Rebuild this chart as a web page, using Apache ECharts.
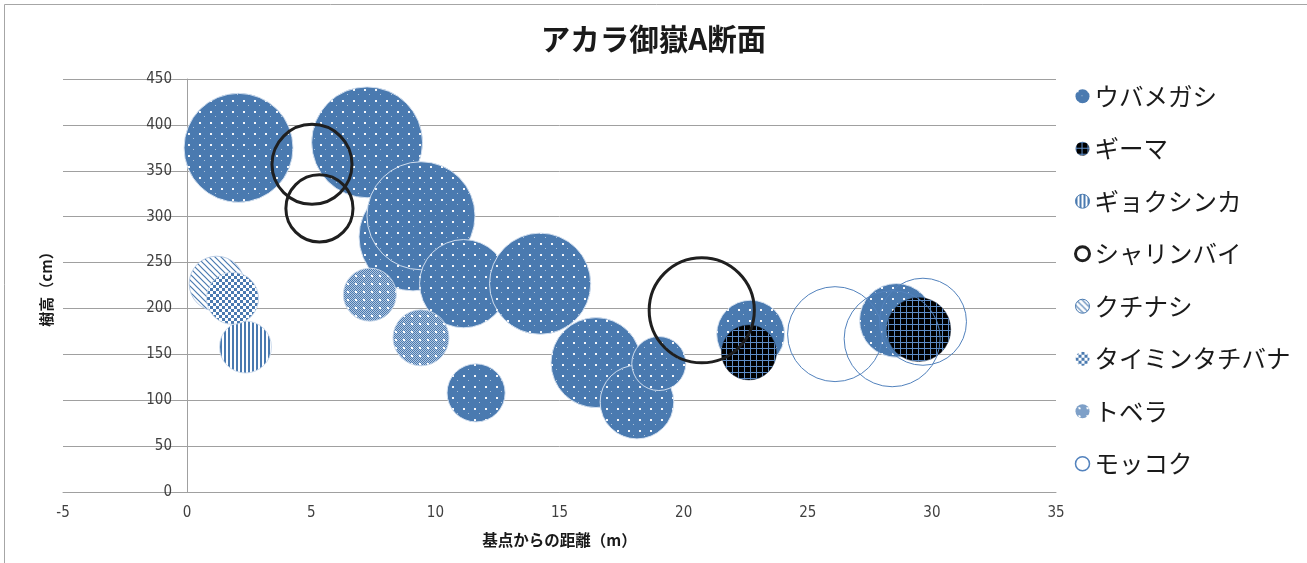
<!DOCTYPE html>
<html>
<head>
<meta charset="utf-8">
<script src="https://cdn.jsdelivr.net/npm/echarts@6/dist/echarts.min.js"></script>
<style>
  html, body { margin: 0; padding: 0; background: #ffffff; }
  #chart { width: 1307px; height: 563px; }
</style>
</head>
<body>
<div id="chart"></div>
<script>
// アカラ御嶽A断面: tree positions along the transect (distance m, height cm, crown size)
const titleText = 'アカラ御嶽A断面';
const xAxisName = '基点からの距離（m）';
const yAxisName = '樹高（cm）';
const xMin = -5, xMax = 35, xStep = 5;
const yMin = 0, yMax = 450, yStep = 50;

const speciesNames = ['ウバメガシ', 'ギーマ', 'ギョクシンカ', 'シャリンバイ', 'クチナシ', 'タイミンタチバナ', 'トベラ', 'モッコク'];

// [distance, height, crown size]
const ubamegashi = [
  [2.07, 375, 11.6], [7.25, 381, 12.0], [9.1, 278, 11.4], [9.42, 301, 11.4],
  [11.14, 227, 7.6], [11.64, 108, 3.3], [14.22, 227, 10.0], [16.47, 141, 7.9],
  [18.12, 98, 5.3], [19.0, 140, 2.85], [22.7, 172, 4.5], [28.57, 187, 5.3]
];
const gima = [[22.63, 152, 2.95], [29.47, 177, 4.0]];
const gyokushinka = [[2.35, 158, 2.64]];
const sharinbai = [[5.03, 357, 6.25], [5.33, 309, 4.4], [20.73, 198, 10.8]];
const kuchinashi = [[1.19, 227, 2.95]];
const taiminTachibana = [[1.83, 211, 2.64]];
const tobera = [[7.36, 215, 2.74], [9.42, 168, 3.06]];
const mokkoku = [[26.1, 172, 8.8], [28.4, 167, 9.0], [29.64, 185.5, 7.4]];

const seriesData = [ubamegashi, gima, gyokushinka, sharinbai, kuchinashi, taiminTachibana, tobera, mokkoku];

// bubble area is proportional to crown size
const BUBBLE_SCALE = 32;
const bubbleDiameter = s => BUBBLE_SCALE * Math.sqrt(s);

const BLUE = '#4a7ab0';

// small repeating fill patterns
function tile(w, h, draw) {
  const c = document.createElement('canvas');
  c.width = w; c.height = h;
  const g = c.getContext('2d');
  draw(g, w, h);
  return { image: c, repeat: 'repeat' };
}
const dotted = tile(11, 11, (g, w, h) => {
  g.fillStyle = BLUE; g.fillRect(0, 0, w, h);
  g.fillStyle = 'rgba(255,255,255,0.95)'; g.fillRect(1, 1, 2, 2);
  g.fillStyle = 'rgba(255,255,255,0.55)'; g.fillRect(6, 6, 1, 1);
});
const blackGrid = tile(6, 6, (g, w, h) => {
  g.fillStyle = '#000000'; g.fillRect(0, 0, w, h);
  g.fillStyle = '#5d8cc6'; g.fillRect(0, 0, w, 1); g.fillRect(0, 0, 1, h);
});
const vStripes = tile(4, 4, (g, w, h) => {
  g.fillStyle = '#ffffff'; g.fillRect(0, 0, w, h);
  g.fillStyle = BLUE; g.fillRect(0, 0, 2, h);
});
const diagonal = tile(6, 6, (g, w, h) => {
  g.fillStyle = '#ffffff'; g.fillRect(0, 0, w, h);
  g.strokeStyle = BLUE; g.lineWidth = 1.2;
  g.beginPath();
  g.moveTo(-1, -1); g.lineTo(w + 1, h + 1);
  g.moveTo(-1, h - 1); g.lineTo(1, h + 1);
  g.moveTo(w - 1, -1); g.lineTo(w + 1, 1);
  g.stroke();
});
const checker = tile(6, 6, (g, w, h) => {
  g.fillStyle = '#d6e1ee'; g.fillRect(0, 0, w, h);
  g.fillStyle = BLUE; g.fillRect(0, 0, 3, 3); g.fillRect(3, 3, 3, 3);
  g.fillStyle = '#ffffff'; g.fillRect(3, 0, 3, 3); g.fillRect(0, 3, 3, 3);
});
const fineMesh = tile(8, 8, (g, w, h) => {
  g.fillStyle = '#b3c7e0'; g.fillRect(0, 0, w, h);
  g.fillStyle = BLUE;
  for (let y = 0; y < h; y++) for (let x = 0; x < w; x++) if ((x + y) % 2 === 0) g.fillRect(x, y, 1, 1);
  g.fillStyle = '#ffffff'; g.fillRect(3, 3, 2, 2);
});

const styles = [
  { color: dotted, borderColor: 'rgba(214,226,240,0.95)', borderWidth: 1 },
  { color: blackGrid, borderColor: '#1a2a40', borderWidth: 0.5 },
  { color: vStripes, borderColor: 'rgba(200,215,234,0.9)', borderWidth: 1 },
  { color: 'rgba(0,0,0,0)', borderColor: '#1f1f1f', borderWidth: 3 },
  { color: diagonal, borderColor: 'rgba(180,200,225,0.9)', borderWidth: 1 },
  { color: checker, borderColor: 'rgba(200,215,234,0.9)', borderWidth: 1 },
  { color: fineMesh, borderColor: 'rgba(200,215,234,0.9)', borderWidth: 1 },
  { color: 'rgba(0,0,0,0)', borderColor: '#5282bd', borderWidth: 1 }
];
const legendIconStyles = [
  { borderWidth: 0 },
  { borderWidth: 0 },
  { borderWidth: 1, borderColor: BLUE },
  { borderWidth: 3, borderColor: '#1f1f1f' },
  { borderWidth: 1, borderColor: BLUE },
  { borderWidth: 0 },
  { borderWidth: 0 },
  { borderWidth: 1.5, borderColor: '#5282bd', color: '#ffffff' }
];

const CJK = "'Noto Sans CJK JP', 'Noto Sans', sans-serif";
const NUM = "'Liberation Sans Narrow', 'DejaVu Sans Condensed', 'Liberation Sans', sans-serif";

// each bubble is a plain circle in pixel space so the fill pattern keeps its pixel scale
function bubbleRenderer(st) {
  return function (params, api) {
    const p = api.coord([api.value(0), api.value(1)]);
    const r = bubbleDiameter(api.value(2)) / 2;
    return {
      type: 'circle',
      shape: { cx: p[0], cy: p[1], r: r },
      style: { fill: st.color, stroke: st.borderColor, lineWidth: st.borderWidth }
    };
  };
}

const chart = echarts.init(document.getElementById('chart'), null, { renderer: 'canvas' });

chart.setOption({
  animation: false,
  backgroundColor: '#ffffff',
  title: {
    text: titleText,
    left: 'center',
    top: 19,
    textStyle: { fontFamily: CJK, fontSize: 29.5, fontWeight: 'bold', color: '#1a1a1a' }
  },
  graphic: [{
    type: 'rect',
    shape: { x: 4.5, y: 4.5, width: 1320, height: 620 },
    style: { fill: 'none', stroke: '#a6a6a6', lineWidth: 1 },
    silent: true
  }],
  legend: {
    orient: 'vertical',
    left: 1069,
    top: 79,
    itemWidth: 14,
    itemHeight: 14,
    itemGap: 28,
    icon: 'circle',
    selectedMode: false,
    textStyle: { fontFamily: CJK, fontSize: 24.5, color: '#1a1a1a', lineHeight: 24 },
    data: speciesNames.map((n, i) => ({ name: n, itemStyle: legendIconStyles[i] }))
  },
  grid: { left: 63, right: 251, top: 79, bottom: 71, outerBoundsMode: 'none' },
  xAxis: {
    type: 'value',
    min: xMin, max: xMax, interval: xStep,
    name: xAxisName,
    nameLocation: 'middle',
    nameGap: 40,
    nameTextStyle: { fontFamily: CJK, fontSize: 15.5, fontWeight: 'bold', color: '#1a1a1a' },
    axisLine: { show: true, onZero: false, lineStyle: { color: '#a0a0a0', width: 1 } },
    axisTick: { show: false },
    splitLine: { show: false },
    axisLabel: { margin: 14, fontFamily: NUM, fontSize: 15, color: '#404040' }
  },
  yAxis: {
    type: 'value',
    min: yMin, max: yMax, interval: yStep,
    name: yAxisName,
    nameLocation: 'middle',
    nameGap: 9,
    nameRotate: 90,
    nameTextStyle: { fontFamily: CJK, fontSize: 15, fontWeight: 'bold', color: '#1a1a1a' },
    axisLine: { show: true, onZero: true, lineStyle: { color: '#a0a0a0', width: 1 } },
    axisTick: { show: false },
    splitLine: { show: true, lineStyle: { color: '#a0a0a0', width: 1 } },
    axisLabel: { margin: -109, fontFamily: NUM, fontSize: 15, color: '#404040' }
  },
  series: speciesNames.map((n, i) => ({
    name: n,
    type: 'custom',
    coordinateSystem: 'cartesian2d',
    data: seriesData[i],
    encode: { x: 0, y: 1 },
    renderItem: bubbleRenderer(styles[i]),
    itemStyle: { color: styles[i].color, borderColor: styles[i].borderColor, borderWidth: styles[i].borderWidth },
    emphasis: { disabled: true },
    silent: true,
    z: 2 + i
  }))
});
</script>
</body>
</html>
